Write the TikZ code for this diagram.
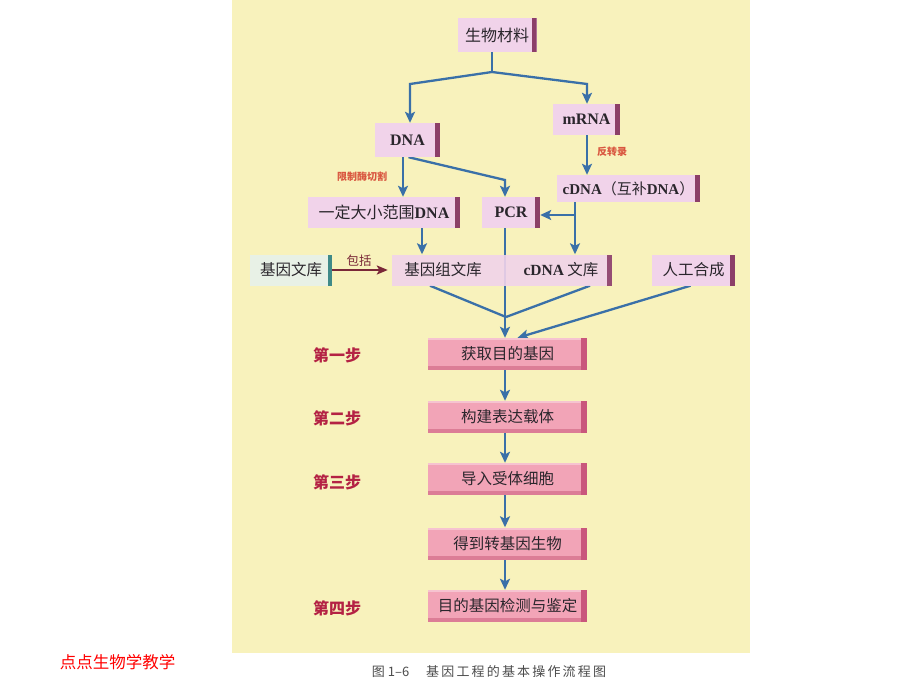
\documentclass[tikz,border=0pt]{standalone}
\usepackage{fontspec}
\setmainfont{Liberation Serif}
\newfontfamily\cjk{Noto Sans CJK SC}
\usetikzlibrary{arrows.meta,calc}
\pgfdeclarelayer{bg}
\pgfdeclarelayer{paper}
\pgfsetlayers{paper,bg,main}
\definecolor{pagecol}{HTML}{F8F2BC}
\definecolor{boxpink}{HTML}{F1D3EA}
\definecolor{barplum}{HTML}{8C3F68}
\definecolor{libfill}{HTML}{E8F1E6}
\definecolor{barteal}{HTML}{3F8A88}
\definecolor{steppink}{HTML}{F2A4B7}
\definecolor{stepdark}{HTML}{C9577C}
\definecolor{stepmid}{HTML}{DC7D96}
\definecolor{arrblue}{HTML}{3A70A8}
\definecolor{brown}{HTML}{7A2838}
\definecolor{txt}{HTML}{2A262C}
\definecolor{smallred}{HTML}{D9563F}
\definecolor{steplabcol}{HTML}{B42244}
\newcommand\lat[1]{{\rmfamily\bfseries #1}}
\tikzset{
  box/.style={fill=boxpink, inner sep=0pt, text=txt,
    font=\cjk\fontsize{16}{18}\selectfont,
    path picture={\fill[barplum] ([xshift=-5pt]path picture bounding box.north east) rectangle (path picture bounding box.south east);}},
  libbox/.style={fill=libfill, inner sep=0pt, text=txt,
    font=\cjk\fontsize{15.5}{18}\selectfont,
    path picture={\fill[barteal] ([xshift=-4pt]path picture bounding box.north east) rectangle (path picture bounding box.south east);}},
  stepbox/.style={fill=steppink, minimum width=159pt, minimum height=32pt, inner sep=0pt, text=txt,
    font=\cjk\fontsize{15.5}{17}\selectfont,
    path picture={
      \fill[stepdark] ([xshift=-6pt]path picture bounding box.north east) rectangle (path picture bounding box.south east);
      \fill[stepmid] (path picture bounding box.south west) rectangle ([xshift=-6pt,yshift=4pt]path picture bounding box.south east);
      \fill[white, opacity=.35] (path picture bounding box.north west) rectangle ([xshift=-6pt,yshift=-2pt]path picture bounding box.north east);}},
  steplab/.style={text=steplabcol, font=\cjk\bfseries\fontsize{16}{18}\selectfont, inner sep=0pt},
  small/.style={text=smallred, font=\cjk\bfseries\fontsize{10}{12}\selectfont, inner sep=0pt},
  conn/.style={draw=arrblue, line width=2.3pt},
  arr/.style={conn, -{Stealth[length=11pt,width=10pt,inset=2.5pt]}},
  brarr/.style={draw=brown, line width=2.3pt, -{Stealth[length=11pt,width=9pt,inset=2.5pt]}},
}
\begin{document}
\begin{tikzpicture}[x=1pt,y=-1pt]
\useasboundingbox (0,0) rectangle (920,690);
\begin{pgfonlayer}{paper}
\fill[white] (0,0) rectangle (920,690);
\fill[pagecol] (232,0) rectangle (750,653);
\end{pgfonlayer}

% upper boxes
\node[box, minimum width=79pt, minimum height=34pt] (mat) at (497,35) {生物材料};
\node[box, minimum width=65pt, minimum height=34pt] (dna) at (407.5,140) {\lat{DNA}};
\node[box, minimum width=67pt, minimum height=31pt] (mrna) at (586.5,119.5) {\lat{mRNA}};
\node[box, font=\cjk\fontsize{15}{18}\selectfont, minimum width=143pt, minimum height=27pt] (cdna) at (628.5,188.5) {\lat{cDNA}（互补\lat{DNA}）};
\node[box, minimum width=152pt, minimum height=31pt] (range) at (384,212.5) {一定大小范围\lat{DNA}};
\node[box, minimum width=58pt, minimum height=31pt] (pcr) at (511,212.5) {\lat{PCR}};

% library row
\node[libbox, minimum width=82pt, minimum height=31pt] (lib) at (291,270) {基因文库};
\node[box, fill opacity=0.9, text opacity=1, minimum width=220pt, minimum height=31pt] (libs) at (502,270) {};
\node[text=txt, font=\cjk\fontsize{15.5}{18}\selectfont, inner sep=0pt] (gl) at (443,270) {基因组文库};
\node[text=txt, font=\cjk\fontsize{15.5}{18}\selectfont, inner sep=0pt] (cl) at (561,270) {\lat{cDNA} 文库};
\node[box, font=\cjk\fontsize{15.5}{18}\selectfont, minimum width=83pt, minimum height=31pt] (syn) at (693.5,270) {人工合成};

% step boxes
\node[stepbox] (s1) at (507.5,354) {获取目的基因};
\node[stepbox] (s2) at (507.5,417) {构建表达载体};
\node[stepbox] (s3) at (507.5,479) {导入受体细胞};
\node[stepbox] (s4) at (507.5,543.5) {得到转基因生物};
\node[stepbox] (s5) at (507.5,606) {目的基因检测与鉴定};

% step labels
\node[steplab] (l1) at (337,355) {第一步};
\node[steplab] (l2) at (337,418) {第二步};
\node[steplab] (l3) at (337,482) {第三步};
\node[steplab] (l4) at (337,608) {第四步};

% small labels
\node[small] (cut) at (362,177) {限制酶切割};
\node[small] (rt) at (612,152) {反转录};
\node[text=brown, font=\cjk\fontsize{12.5}{14}\selectfont, inner sep=0pt] (incl) at (359,261) {包括};

% coordinates
\coordinate (sp) at (492,72);
\coordinate (lb) at (410,84);
\coordinate (rb) at (587,84);
\coordinate (dx) at (403,0);
\coordinate (pk) at (505,180);
\coordinate (cx) at (575,215);
\coordinate (rx) at (422,0);
\coordinate (gx) at (430,0);
\coordinate (hx) at (590,0);
\coordinate (cv) at (506,317);

\begin{pgfonlayer}{bg}
\draw[conn] (mat.south -| sp) -- (sp);
\draw[arr] (sp) -- (lb) -- (lb |- dna.north);
\draw[arr] (sp) -- (rb) -- (rb |- mrna.north);
\draw[arr] (rb |- mrna.south) -- (rb |- cdna.north);
\draw[arr] (dx |- dna.south) -- (dx |- range.north);
\draw[arr] ([xshift=1pt]dna.south) -- (pk) -- (pk |- pcr.north);
\draw[arr] (cx |- cdna.south) -- (cx |- libs.north);
\draw[arr] (cx) -- (pcr.east |- cx);
\draw[arr] (rx |- range.south) -- (rx |- libs.north);
\draw[arr] (pk |- pcr.south) -- (pk |- s1.north);
\draw[conn] (gx |- libs.south) -- (cv);
\draw[conn] (hx |- libs.south) -- (cv);
\draw[arr] ([xshift=-3pt]syn.south) -- ([xshift=10pt]s1.north);
\draw[arr] (pk |- s1.south) -- (pk |- s2.north);
\draw[arr] (pk |- s2.south) -- (pk |- s3.north);
\draw[arr] (pk |- s3.south) -- (pk |- s4.north);
\draw[arr] (pk |- s4.south) -- (pk |- s5.north);
\end{pgfonlayer}
\draw[brarr] (lib.east) -- ([xshift=-4pt]libs.west);

% caption and watermark
\node[text=black!70, font=\cjk\fontsize{13}{15}\selectfont, inner sep=0pt] (cap) at (489,672) {图 1–6\hspace{1.3em}基\,因\,工\,程\,的\,基\,本\,操\,作\,流\,程\,图};
\node[text=red, font=\cjk\fontsize{16.5}{18}\selectfont, inner sep=0pt] (wm) at (117.5,662) {点点生物学教学};
\end{tikzpicture}
\end{document}
